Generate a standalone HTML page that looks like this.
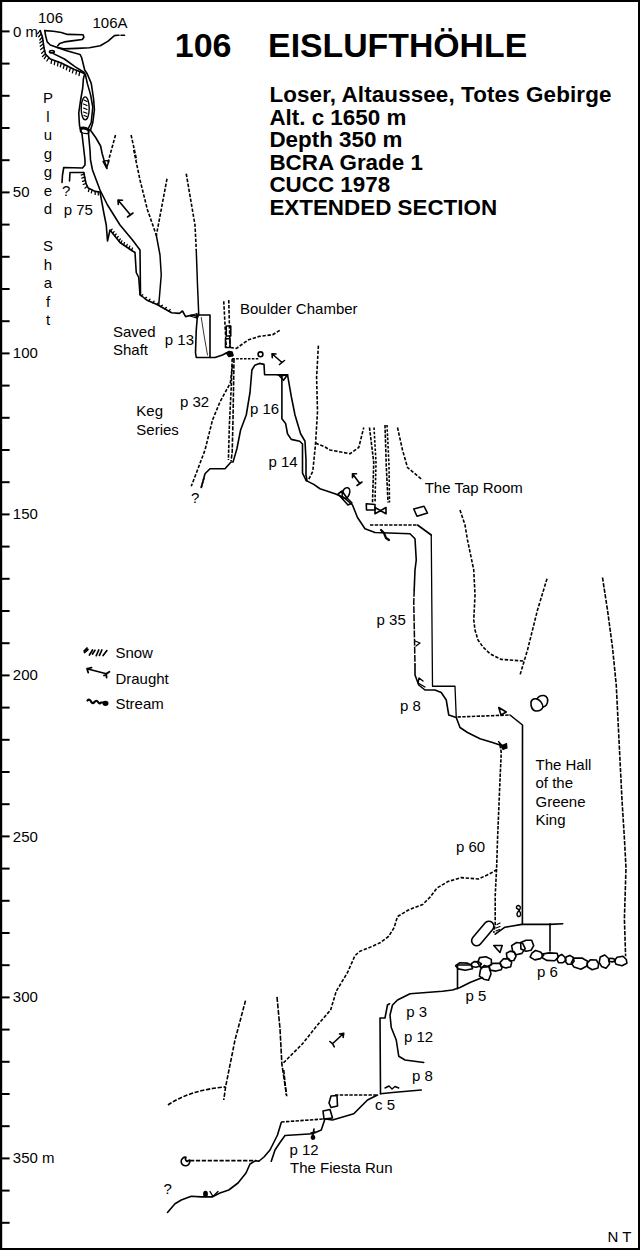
<!DOCTYPE html>
<html><head><meta charset="utf-8">
<style>
html,body{margin:0;padding:0;background:#fff;}
body{width:640px;height:1250px;position:relative;overflow:hidden;font-family:"Liberation Sans",sans-serif;color:#000;}
.t{position:absolute;white-space:nowrap;line-height:1;}
.b{font-weight:bold;}
svg{position:absolute;left:0;top:0;}
</style></head><body>
<svg width="640" height="1250" viewBox="0 0 640 1250">
<g id="frame" fill="#000">
<rect x="0" y="0" width="640" height="2"/>
<rect x="0" y="1248" width="640" height="2"/>
<rect x="0" y="0" width="2.2" height="1250"/>
<rect x="638" y="0" width="2" height="1250"/>
</g>
<g id="ticks" stroke="#000" stroke-width="2">
<line x1="0" y1="31.4" x2="9.6" y2="31.4"/>
<line x1="0" y1="63.6" x2="9.6" y2="63.6"/>
<line x1="0" y1="95.8" x2="9.6" y2="95.8"/>
<line x1="0" y1="128.0" x2="9.6" y2="128.0"/>
<line x1="0" y1="160.2" x2="9.6" y2="160.2"/>
<line x1="0" y1="192.4" x2="9.6" y2="192.4"/>
<line x1="0" y1="224.6" x2="9.6" y2="224.6"/>
<line x1="0" y1="256.8" x2="9.6" y2="256.8"/>
<line x1="0" y1="289.0" x2="9.6" y2="289.0"/>
<line x1="0" y1="321.2" x2="9.6" y2="321.2"/>
<line x1="0" y1="353.4" x2="9.6" y2="353.4"/>
<line x1="0" y1="385.6" x2="9.6" y2="385.6"/>
<line x1="0" y1="417.8" x2="9.6" y2="417.8"/>
<line x1="0" y1="450.0" x2="9.6" y2="450.0"/>
<line x1="0" y1="482.2" x2="9.6" y2="482.2"/>
<line x1="0" y1="514.4" x2="9.6" y2="514.4"/>
<line x1="0" y1="546.6" x2="9.6" y2="546.6"/>
<line x1="0" y1="578.8" x2="9.6" y2="578.8"/>
<line x1="0" y1="611.0" x2="9.6" y2="611.0"/>
<line x1="0" y1="643.2" x2="9.6" y2="643.2"/>
<line x1="0" y1="675.4" x2="9.6" y2="675.4"/>
<line x1="0" y1="707.6" x2="9.6" y2="707.6"/>
<line x1="0" y1="739.8" x2="9.6" y2="739.8"/>
<line x1="0" y1="772.0" x2="9.6" y2="772.0"/>
<line x1="0" y1="804.2" x2="9.6" y2="804.2"/>
<line x1="0" y1="836.4" x2="9.6" y2="836.4"/>
<line x1="0" y1="868.6" x2="9.6" y2="868.6"/>
<line x1="0" y1="900.8" x2="9.6" y2="900.8"/>
<line x1="0" y1="933.0" x2="9.6" y2="933.0"/>
<line x1="0" y1="965.2" x2="9.6" y2="965.2"/>
<line x1="0" y1="997.4" x2="9.6" y2="997.4"/>
<line x1="0" y1="1029.6" x2="9.6" y2="1029.6"/>
<line x1="0" y1="1061.8" x2="9.6" y2="1061.8"/>
<line x1="0" y1="1094.0" x2="9.6" y2="1094.0"/>
<line x1="0" y1="1126.2" x2="9.6" y2="1126.2"/>
<line x1="0" y1="1158.4" x2="9.6" y2="1158.4"/>
<line x1="0" y1="1190.6" x2="9.6" y2="1190.6"/>
<line x1="0" y1="1222.8" x2="9.6" y2="1222.8"/>
</g>
<g id="texts" font-family="Liberation Sans, sans-serif" fill="#000">
<text x="38.0" y="23.0" font-size="15">106</text>
<text x="92.5" y="28.0" font-size="15">106A</text>
<text x="13.0" y="37.0" font-size="15">0 m</text>
<text x="12.8" y="196.7" font-size="15">50</text>
<text x="12.8" y="358.0" font-size="15">100</text>
<text x="12.8" y="519.0" font-size="15">150</text>
<text x="12.8" y="680.0" font-size="15">200</text>
<text x="12.8" y="841.5" font-size="15">250</text>
<text x="12.8" y="1002.0" font-size="15">300</text>
<text x="12.8" y="1162.8" font-size="15">350 m</text>
<text x="62.0" y="195.6" font-size="15">?</text>
<text x="63.7" y="214.5" font-size="15">p 75</text>
<text x="113.0" y="337.0" font-size="15">Saved</text>
<text x="113.0" y="354.9" font-size="15">Shaft</text>
<text x="164.8" y="344.5" font-size="15">p 13</text>
<text x="240.0" y="314.0" font-size="15">Boulder Chamber</text>
<text x="180.0" y="407.3" font-size="15">p 32</text>
<text x="136.3" y="416.0" font-size="15">Keg</text>
<text x="136.3" y="435.1" font-size="15">Series</text>
<text x="250.0" y="414.0" font-size="15">p 16</text>
<text x="268.4" y="466.5" font-size="15">p 14</text>
<text x="191.0" y="502.5" font-size="15">?</text>
<text x="424.7" y="493.0" font-size="15">The Tap Room</text>
<text x="376.6" y="625.0" font-size="15">p 35</text>
<text x="400.0" y="711.0" font-size="15">p 8</text>
<text x="115.4" y="657.5" font-size="15">Snow</text>
<text x="115.4" y="683.5" font-size="15">Draught</text>
<text x="115.4" y="709.3" font-size="15">Stream</text>
<text x="535.5" y="769.6" font-size="15">The Hall</text>
<text x="535.5" y="788.0" font-size="15">of the</text>
<text x="535.5" y="806.5" font-size="15">Greene</text>
<text x="535.5" y="825.0" font-size="15">King</text>
<text x="456.0" y="852.0" font-size="15">p 60</text>
<text x="537.0" y="977.1" font-size="15">p 6</text>
<text x="465.4" y="1000.5" font-size="15">p 5</text>
<text x="406.3" y="1016.5" font-size="15">p 3</text>
<text x="404.0" y="1041.5" font-size="15">p 12</text>
<text x="412.0" y="1081.0" font-size="15">p 8</text>
<text x="375.0" y="1110.0" font-size="15">c 5</text>
<text x="289.4" y="1154.5" font-size="15">p 12</text>
<text x="290.0" y="1172.8" font-size="15">The Fiesta Run</text>
<text x="163.4" y="1194.0" font-size="15">?</text>
<text x="607.5" y="1242.0" font-size="15">N T</text>
<text x="174.8" y="57" font-size="34" font-weight="bold">106</text>
<text x="268.1" y="57" font-size="33.8" font-weight="bold">EISLUFTHÖHLE</text>
<text x="269.4" y="102" font-size="22.4" font-weight="bold" textLength="342" lengthAdjust="spacing">Loser, Altaussee, Totes Gebirge</text>
<text x="269.4" y="124.5" font-size="22.4" font-weight="bold">Alt. c 1650 m</text>
<text x="269.4" y="147" font-size="22.4" font-weight="bold">Depth 350 m</text>
<text x="269.4" y="169.5" font-size="22.4" font-weight="bold">BCRA Grade 1</text>
<text x="269.4" y="192" font-size="22.4" font-weight="bold">CUCC 1978</text>
<text x="269.4" y="214.5" font-size="22.4" font-weight="bold">EXTENDED SECTION</text>
<text x="48.0" y="103.0" font-size="15" text-anchor="middle">P</text>
<text x="48.0" y="121.5" font-size="15" text-anchor="middle">l</text>
<text x="48.0" y="140.0" font-size="15" text-anchor="middle">u</text>
<text x="48.0" y="158.5" font-size="15" text-anchor="middle">g</text>
<text x="48.0" y="177.0" font-size="15" text-anchor="middle">g</text>
<text x="48.0" y="195.5" font-size="15" text-anchor="middle">e</text>
<text x="48.0" y="214.0" font-size="15" text-anchor="middle">d</text>
<text x="48.0" y="251.0" font-size="15" text-anchor="middle">S</text>
<text x="48.0" y="269.5" font-size="15" text-anchor="middle">h</text>
<text x="48.0" y="288.0" font-size="15" text-anchor="middle">a</text>
<text x="48.0" y="306.5" font-size="15" text-anchor="middle">f</text>
<text x="48.0" y="325.0" font-size="15" text-anchor="middle">t</text>
</g>
<g id="lines" fill="none" stroke="#000" stroke-width="1.6" stroke-linejoin="round" stroke-linecap="round">
<path d="M44.8,30.6 L53.4,31.3 L61.3,32.5 L67.5,34.4 L83.1,34.8 L83.9,37.2 L82.3,39.5 L73.8,40.6 L64.4,41.9 L59.7,43.4 L57.8,45.8"/>
<path d="M44.8,30.6 L45.6,35.6 L47.2,41.9 L50.3,45 L56.6,47.3 L63.6,48.9 L76.9,48.4 L89.4,47.8 L100.3,45.8 L108.1,41.1 L114.4,35.6 L117.5,35.3 L119,35.3"/>
<path d="M121,35.3 L124.5,35.3"/>
<path d="M56.6,47.3 L65.9,50.5 L73.8,52.8 L80,54.4 L81.6,57.5 L84.7,70 L87.3,74 L91.25,83.4 L93.6,99 L94.4,110 L92.8,122.5 L90.5,130.3 L96,138 L100.6,146 L102.2,153.75 L104,160 L107,168.5"/>
<path d="M40.2,30.6 L42.5,37.2 L44,48 L45.6,54.4 L50.3,59 L61.3,63 L73.8,69.2 L81.6,72.3 L84.7,73.9 L83.4,78.75 L82.7,88 L80.3,102 L78.75,113 L79.5,125.6 L81.9,133.4 L83.4,146 L85,160 L85,165 L82.5,168 L63.75,167.5 L62.5,175 L62,182.5"/>
<path d="M53.4,53.6 L64.4,59 L75.3,66.9 L83.9,72.3 L85.5,75 L87.3,83.4 L90.5,94.4 L92.8,107 L91.25,122.5 L88.1,128.75 L88.9,138 L90,150 L90.5,160 L92.5,170 L100,190 L107.5,205 L120,225 L132.5,240 L140,250 L140.5,295 L146.6,300 L157.5,304.8 L171.6,312.7 L179.4,313.4 L182.5,311 L185.6,316.6 L191.9,315 L198,316.6"/>
<path d="M83.75,172.5 L70,172.5 L69.5,181"/>
<path d="M83.75,172.5 L86,183.5 L88.2,188 L95,191.4 L100,192 L103.75,212.5 L106.25,225 L107.5,241 L110,230 L120,242.5 L132.5,251 L135,252.5 L136.25,272.5 L138.75,277.5 L140,295"/>
<ellipse cx="51.9" cy="51.7" rx="2.4" ry="1.2"/>
<ellipse cx="85.2" cy="108.4" rx="4" ry="11.5" stroke-width="1.4"/>
<path d="M84,100 l3,1.5 M83.5,104 l3.5,1.5 M83.5,108 l3.5,1.5 M83.5,112 l3.5,1.2 M84,115.5 l2.5,1" stroke-width="1.2"/>
<path d="M80,128 Q84,126 89.5,129.5 L88.5,133.5 Q84,134 80.5,132 Z" stroke-width="1.3"/>
<path d="M80.5,128.2 Q84,126.5 89,129.8 L88,131 Q84,128.5 81,130 Z" fill="#000" stroke="none"/>
<path d="M103,161.5 Q106,160 109,161 L106.5,168 Z" stroke-width="1.4"/>
<path d="M115.5,135 L107,166" stroke-dasharray="3.40,1.65" stroke-width="1.6" stroke-linecap="butt"/>
<path d="M131.1,135 L136.6,160" stroke-dasharray="3.40,1.65" stroke-width="1.6" stroke-linecap="butt"/>
<path d="M133.75,150 L140,180 L147.5,210 L156.25,235" stroke-dasharray="3.40,1.65" stroke-width="1.6" stroke-linecap="butt"/>
<path d="M156.25,235 L160,255 L161.25,275 L158.75,305" stroke-width="1.5"/>
<path d="M167,178.75 L156.25,236" stroke-dasharray="3.40,1.65" stroke-width="1.6" stroke-linecap="butt"/>
<path d="M186.25,173.75 L195,225 L196.25,250" stroke-dasharray="3.40,1.65" stroke-width="1.6" stroke-linecap="butt"/>
<path d="M196.25,250 L197.5,285 L198.75,315" stroke-width="1.5"/>
<path d="M118,200 L130.5,215 M118,200 l0.3,4.5 M118,200 l4.5,0.3 M127.5,217 l5.5,-4"/>
<path d="M198.75,315 L210,315 L210,357.5"/>
<path d="M197.5,315 L196.25,330 L195.5,352.5 L196.25,357.5 L215,357.5 L222.5,355 L226.25,353 L230,353.75 L232,356"/>
<path d="M201.25,317.5 L204,335 L207.5,355" stroke-width="0.8"/>
<path d="M223.75,301.25 L226.25,347.5" stroke-dasharray="3.40,1.65" stroke-width="1.6" stroke-linecap="butt"/>
<path d="M228.75,300 L230,347.5" stroke-dasharray="3.40,1.65" stroke-width="1.6" stroke-linecap="butt"/>
<rect x="226.25" y="326" width="4.5" height="10"/>
<rect x="225.5" y="338.75" width="4.5" height="8.75"/>
<path d="M230.5,347.5 L236.5,348.4 L243.4,343.3 L248.6,339.8 L259,336.4 L272.6,334.7 L281.2,329.5" stroke-dasharray="3.40,1.65" stroke-width="1.6" stroke-linecap="butt"/>
<path d="M226.5,353 L229,351.5 L232,352 L233,355.5 L229,356.5 Z" fill="#000"/>
<path d="M232.2,358.75 L259.4,358.75" stroke-dasharray="2.55,1.38" stroke-width="1.6" stroke-linecap="butt"/>
<circle cx="260.5" cy="354.3" r="2.4"/>
<path d="M272,353.75 L282,362.5 M272,353.75 l0.3,4 M272,353.75 l4,0.3 M279.5,364.5 l5,-4"/>
<path d="M232.2,358.75 L231.25,386.9 L229.4,424.4 L228.4,460" stroke-dasharray="3.40,1.38" stroke-width="1.6" stroke-linecap="butt"/>
<path d="M234,358.75 L233.1,415 L232.2,452.5 L231,461" stroke-dasharray="4.25,1.38" stroke-width="1.6" stroke-linecap="butt"/>
<path d="M232.5,365 L230.3,383 L220,401.9 L212.5,420 L205,450 L197.5,470 L191.25,486.25" stroke-dasharray="3.40,1.65" stroke-width="1.6" stroke-linecap="butt"/>
<path d="M201.25,487.5 L205,473.75 L210,468.75 L225,468.75 L231,462 L233.1,461.9 L236.9,448.75 L240.6,430 L246.25,415 L250,392.5 L251.9,370 L254.7,365.3 L259.4,363.4 L264,364.4 L264.6,374.7 L276.25,374.7 L281.9,375.6 L287.5,374.7"/>
<path d="M201.25,487.5 L204,478" stroke-dasharray="2.55,1.10" stroke-width="1.6" stroke-linecap="butt"/>
<path d="M278.5,374.7 L287.5,374.7 L283.5,380.3 Z"/>
<path d="M281.9,375.6 L281.9,418.75 L285.6,423.4 L287.5,433.75 L291.25,439.4 L299.7,441.25 L302.5,444 L302.5,473.1 L306.25,480.6"/>
<path d="M287.5,374.7 L291.25,396.25 L295,415 L300.6,433.75 L305,441.25 L306,460 L306,475 L307,480.6"/>
<path d="M318.4,345.6 L316.6,377.5 L317.5,411.25 L315.6,443.1 L312.8,471.25 L308.1,480.6" stroke-dasharray="3.40,1.65" stroke-width="1.6" stroke-linecap="butt"/>
<path d="M315.6,443.1 L325,447 L330,450 L350,453.75 L358.75,447.5 L363.75,427.5" stroke-dasharray="3.40,1.65" stroke-width="1.6" stroke-linecap="butt"/>
<path d="M306.25,480.6 L313.75,484.4 L320,488.75 L335,493.75 L343.75,497.5 L352.5,505 L357.5,517.5 L365,528.75 L375,532.5 L410,533.75 L415,538.75 L416.25,560 L415,570 L414.2,590"/>
<path d="M414.2,590 L413.75,602.5 L414.5,640 L415,665" stroke-dasharray="6.80,1.32" stroke-width="1.5" stroke-linecap="butt"/>
<path d="M415,665 L415,675 L418.75,685 L425,690 L435,690 L441.25,692.5 L446.25,700 L448.75,715 L456.25,717.5 L460,727.5 L467.5,732.5 L480,738.75 L492.5,742.5 L500,745 L505,746.25"/>
<ellipse cx="346" cy="493" rx="3.5" ry="5.5" transform="rotate(20 346 493)"/>
<path d="M338,494 L342,491 L347,498 L352,503 L348,505 Z"/>
<path d="M352.5,473.75 L360,483.75 M352.5,473.75 l0,4 M352.5,473.75 l4,0 M357,485.5 l5,-3.5"/>
<path d="M369.5,427.5 L373.75,462.5 L372.5,502.5" stroke-dasharray="3.40,1.38" stroke-width="1.6" stroke-linecap="butt"/>
<path d="M374,427.5 L376,462.5 L375,502.5" stroke-dasharray="2.55,1.65" stroke-width="1.6" stroke-linecap="butt"/>
<path d="M385,425 L386.25,465 L388,502.5" stroke-dasharray="3.40,1.38" stroke-width="1.6" stroke-linecap="butt"/>
<path d="M387,425 L389,465 L389.5,502.5" stroke-dasharray="2.55,1.65" stroke-width="1.6" stroke-linecap="butt"/>
<path d="M366.25,503.75 L375,504.5 L375,510 L366.5,510 Z"/>
<path d="M375,507.5 L386,513.75 L386,507.5 L375,513.75 Z"/>
<path d="M397.5,427.5 L402.5,450 L407.5,467.5 L422.5,480" stroke-dasharray="3.40,1.65" stroke-width="1.6" stroke-linecap="butt"/>
<path d="M413.75,509 L424,506.25 L427.5,513 L417,516.25 Z"/>
<path d="M370,525 L417.5,525" stroke-dasharray="3.40,1.38" stroke-width="1.6" stroke-linecap="butt"/>
<path d="M417.5,525 L431.25,535"/>
<path d="M431.25,535 L432.5,686.25 L455,686.25 L456.25,717.5" stroke-width="1.3"/>
<path d="M381,530 L384,533 L386,538 L389,540" stroke-width="2.2"/>
<path d="M460,510 L465,525 L467.5,540 L473.75,570 L475,595 L473.75,620 L475,630 L478,640 L483,647 L490,653.75 L501,659.4 L523.6,661" stroke-dasharray="3.40,1.65" stroke-width="1.6" stroke-linecap="butt"/>
<path d="M547,578.75 L537.5,610 L527.5,650 L520,675" stroke-dasharray="3.40,1.65" stroke-width="1.6" stroke-linecap="butt"/>
<path d="M602.5,577.5 L607.5,610 L612.5,647.5 L616.25,685 L619,740 L622,800 L624.5,840 L626,868 L624.4,918.75 L625.6,956.25" stroke-dasharray="4.25,1.38" stroke-width="1.6" stroke-linecap="butt"/>
<path d="M457.5,717 L510,715" stroke-dasharray="3.40,1.38" stroke-width="1.6" stroke-linecap="butt"/>
<path d="M498.75,707.5 L506.25,712 L501,715 Z"/>
<path d="M510,715 L522.5,725 L522.4,924.4"/>
<path d="M500,745 L501.25,752.5 L500,780 L497.5,840 L496.6,868 L495.2,896 L495.2,924.4 L493.75,932.8" stroke-dasharray="3.40,1.38" stroke-width="1.6" stroke-linecap="butt"/>
<path d="M531,702 Q532,698 537,699 Q539,695 544,695.5 Q548.5,697 547.5,702 Q547,706 543,707 Q541,711.5 535.5,711 Q530.5,709.5 531,702 Z"/>
<path d="M537,699 Q542,701 543,707" stroke-width="1.5"/>
<path d="M498.5,741.5 L502,745.5 L506.5,743.5 L507,748 L503,749.5 Z" fill="#000" stroke-width="1.2"/>
<path d="M425,687 L418,683 L419,678 L423,681" stroke-width="1.4"/>
<path d="M415,641 L420,643 L416,646" stroke-width="1.3"/>
<path d="M497,869.5 L489.4,874 L478.4,879 L461,877.6 L447.8,881.6 L436.9,888.1 L430.3,896.9 L422.7,904.5 L408.4,910 L397.5,916.6 L394.2,927.5 L388.75,936.25 L380,942.8 L372.5,946.25 L360,951.25 L355,955.6 L347.5,972.5 L336.25,991.25 L330.6,1010 L317.5,1025 L302.5,1043.75 L281.9,1064.4" stroke-dasharray="3.40,1.65" stroke-width="1.6" stroke-linecap="butt"/>
<path d="M495.2,934.2 L505,927.2 L521.9,924.4 L550,924.4 L562.7,923.8"/>
<path d="M550,923.8 L550,951"/>
<rect x="477.8" y="919" width="10" height="29" rx="5" ry="5" transform="rotate(40 482.8 933.4)"/>
<path d="M493.75,945.5 L502.2,945.5 L500,952.5 Z"/>
<path d="M518.5,905.5 Q522,906.5 519,910.5 Q515.5,914 518,916.5 Q521,917 520.5,913 Q519.5,909.5 516.5,908 Q516,905.5 518.5,905.5 Z" stroke-width="1.4"/>
<path d="M457.5,965 L457.5,988.75 M457.5,965 L470,965"/>
<path d="M380.5,1093.75 L380,1018 L385,1018 L387.5,1005 L389.5,1003.75"/>
<path d="M482.5,977.5 L470,982.5 L460,987.5 L452.5,990 L442.5,991.25 L410,993.75 L397.5,1000 L392.5,1005 L390,1015 L391.25,1027.5 L396.25,1040 L398.75,1056.25 L405,1060 L423.75,1062.5"/>
<path d="M380.5,1093.75 L392.5,1092.5 L421.25,1090"/>
<path d="M385,1088 L389,1086 L392,1089 L395,1086.5 L398.75,1088" stroke-width="1.4"/>
<path d="M335,1095 L377.5,1095" stroke-dasharray="3.40,1.38" stroke-width="1.6" stroke-linecap="butt"/>
<path d="M377.5,1095 L367.5,1100 L360,1107.5 L353.75,1113.75 L332.5,1120 L323.75,1118.75"/>
<path d="M331,1096 L337,1095.5 L337.5,1106 L331,1107.5 L329,1103 Z"/>
<path d="M323,1111 L330,1109.5 L332.5,1118 L324,1119 Z"/>
<path d="M281.25,1122 L323.75,1119" stroke-dasharray="3.40,1.38" stroke-width="1.6" stroke-linecap="butt"/>
<path d="M325,1118.75 L321.25,1130 L312.5,1133.75 L285,1135.5 L280,1142.5 L275,1150 L271.25,1161.25"/>
<path d="M281.25,1122.5 L277.5,1135 L270,1150 L264,1157 L258.75,1161.25"/>
<path d="M312.5,1137 L314,1129 M311,1133 l4,-1"/>
<circle cx="313" cy="1137.5" r="1.6" fill="#000"/>
<path d="M283.75,1070 L286.25,1095" stroke-dasharray="4.25,1.65" stroke-width="1.6" stroke-linecap="butt"/>
<path d="M245.5,1000.6 L235,1040 L225.6,1086.9 L223.75,1100" stroke-dasharray="4.25,1.65" stroke-width="1.6" stroke-linecap="butt"/>
<path d="M277,996.9 L280,1028.75 L281.9,1064.4 L286.75,1096.25" stroke-dasharray="5.10,1.38" stroke-width="1.6" stroke-linecap="butt"/>
<path d="M168,1105 Q190,1090 225.6,1086.9" stroke-dasharray="4.25,1.65" stroke-width="1.6" stroke-linecap="butt"/>
<path d="M332.5,1043.75 L343.75,1033.25 M343.75,1033.25 l-4.2,0.8 M343.75,1033.25 l-0.6,4.2 M329.8,1041.5 l2.7,2.2 l1.8,3.2"/>
<path d="M190,1160.6 L255.6,1160.6" stroke-dasharray="4.25,1.65" stroke-width="1.6" stroke-linecap="butt"/>
<path d="M189.5,1160 A4.3,4.3 0 1 1 186,1157.2 Q184.5,1160 187,1161.5 Z"/>
<path d="M258.75,1161.25 L255.6,1160.6 L250,1164 L246,1173 L238,1183 L228.75,1190 L220,1193 L212.5,1196.9 L201.25,1196.9 L191.25,1196.25 L181.25,1200 L175,1203.75 L167.5,1212.5"/>
<ellipse cx="205.5" cy="1194" rx="1.6" ry="2.4" fill="#000"/>
<path d="M210,1191.5 L213,1196.5 L218,1191.5" stroke-width="1.4"/>
<path d="M286.9,1095.6" />
<path d="M496,928 l4,-1.5 M496,931 l3.5,-1.5 M497,924.5 l3,-1.5" stroke-width="1.2"/>
<path d="M190,316 L197,313.5 L196.5,318 Z" stroke-width="1.3"/>
<path d="M465.2,970.3 L458.3,968.9 L455.6,965.7 L459.9,962.7 L467.4,963.1 L471.7,965.3 L472.5,968.8 Z"/>
<path d="M476.0,967.2 L471.5,966.5 L471.4,963.7 L474.1,961.6 L478.7,961.9 L481.4,964.0 L479.6,966.3 Z"/>
<path d="M479.6,957.6 L486.0,956.7 L491.3,959.4 L491.4,964.6 L486.4,966.9 L480.5,967.2 L477.6,962.6 Z"/>
<path d="M483.7,979.2 L479.4,976.1 L480.5,969.4 L484.4,965.4 L489.4,967.3 L491.0,973.9 L488.5,980.2 Z"/>
<path d="M489.8,970.1 L489.1,966.5 L492.6,963.3 L499.7,963.4 L502.4,966.7 L501.2,969.7 L496.0,971.1 Z"/>
<path d="M511.7,962.2 L510.7,966.7 L505.9,968.1 L501.2,966.6 L500.2,962.2 L503.4,958.9 L508.6,958.6 Z"/>
<path d="M506.4,953.3 L510.2,951.1 L514.4,952.1 L516.0,956.4 L513.8,960.5 L509.5,960.7 L507.0,957.5 Z"/>
<path d="M522.6,943.2 L525.2,948.6 L521.9,953.4 L516.3,954.8 L512.6,950.8 L511.6,945.6 L516.6,942.5 Z"/>
<path d="M526.1,951.3 L520.9,948.9 L520.7,942.6 L526.1,940.3 L531.7,940.3 L533.7,945.7 L531.0,950.3 Z"/>
<path d="M534.8,959.9 L530.1,957.1 L531.9,953.2 L535.5,950.5 L540.5,952.1 L543.7,955.3 L540.4,958.6 Z"/>
<path d="M557.1,953.3 L558.4,957.2 L554.7,960.8 L546.6,960.4 L542.2,957.7 L542.1,954.1 L549.1,952.9 Z"/>
<path d="M562.5,962.8 L558.5,962.7 L556.9,959.3 L558.2,956.5 L561.7,954.4 L564.7,957.0 L566.0,960.5 Z"/>
<path d="M573.3,957.5 L574.1,961.3 L571.6,964.3 L567.6,964.3 L565.1,961.0 L566.1,957.1 L569.8,955.4 Z"/>
<path d="M587.6,961.3 L586.9,966.0 L580.9,969.2 L574.0,967.1 L571.2,963.0 L573.7,958.1 L582.0,958.0 Z"/>
<path d="M587.1,963.2 L590.3,959.9 L596.3,960.0 L598.6,963.8 L598.0,968.0 L592.2,969.7 L587.7,967.0 Z"/>
<path d="M600.2,957.1 L604.8,955.0 L608.6,958.5 L609.5,964.1 L606.0,968.3 L601.5,966.4 L599.2,962.3 Z"/>
<path d="M610.0,958.3 L613.3,958.6 L615.4,959.7 L614.9,961.3 L611.9,961.9 L609.2,961.3 L608.5,959.9 Z"/>
<path d="M616.1,964.3 L614.4,960.5 L617.1,957.2 L623.0,956.2 L626.3,959.5 L626.9,963.2 L622.0,965.7 Z"/>
<path d="M40.2,30.6 l-2.6,3.0 M41.3,33.8 l-2.6,3.0 M42.4,37.0 l-2.6,3.0 M42.9,40.4 l-3.2,2.5 M43.4,43.7 l-3.2,2.5 M43.9,47.1 l-3.2,2.5 M44.6,50.4 l-2.9,2.8 M45.4,53.7 l-2.9,2.8" stroke-width="1.3"/>
<path d="M46.5,55.4 l-2.2,3.3 M49.0,57.7 l-2.2,3.3 M51.8,59.5 l-0.7,3.9 M55.0,60.7 l-0.7,3.9 M58.2,61.9 l-0.7,3.9 M61.4,63.0 l-1.1,3.8 M64.4,64.5 l-1.1,3.8 M67.4,66.0 l-1.1,3.8 M70.5,67.6 l-1.1,3.8 M73.5,69.1 l-1.1,3.8 M76.7,70.3 l-0.8,3.9 M79.8,71.6 l-0.8,3.9" stroke-width="1.3"/>
<path d="M84.0,174.0 l-2.8,1.1 M84.7,177.1 l-2.8,1.1 M85.3,180.3 l-2.8,1.1 M86.0,183.4 l-2.8,1.1 M87.4,186.3 l-2.4,1.8 M89.3,188.6 l-0.9,2.9 M92.2,190.0 l-0.9,2.9 M95.1,191.4 l0.1,3.0 M98.2,191.9 l0.1,3.0" stroke-width="1.3"/>
<path d="M110.5,231.0 l1.6,-1.9 M112.5,233.5 l1.6,-1.9 M114.6,235.9 l1.6,-1.9 M116.6,238.4 l1.6,-1.9 M118.7,240.9 l1.6,-1.9 M120.9,243.1 l1.0,-2.3 M123.5,244.9 l1.0,-2.3 M126.2,246.7 l1.0,-2.3 M128.8,248.5 l1.0,-2.3 M131.5,250.3 l1.0,-2.3" stroke-width="1.3"/>
<path d="M141.0,296.0 l1.8,-1.2 M144.7,298.6 l1.8,-1.2 M148.5,300.9 l1.5,-1.6 M152.7,302.7 l1.5,-1.6 M156.8,304.5 l1.5,-1.6 M160.7,306.6 l1.7,-1.4 M164.7,308.8 l1.7,-1.4 M168.6,311.0 l1.7,-1.4" stroke-width="1.3"/>
<path d="M84,651 l3,-3 M84.5,652.5 l3.5,-3 M89.4,655 l3.1,-5 M92.5,654 l2.5,-3.7 M96.25,655.6 l2.5,-5.6 M99.4,655.3 l2.5,-5.3 M103.1,655.6 l3.8,-5" stroke-width="1.7"/>
<path d="M87,668.75 L106.25,673.75 M87,668.75 l4.5,-1.2 M87,668.75 l1.2,3.8 M104,675.5 l5.4,-3.8 M106.25,673.75 l0.3,3.8" stroke-width="1.8"/>
<path d="M87.5,700.5 Q89.5,698.5 91,701.5 T94.5,702 T98,702 T101,702.5 L104,702.5" stroke-width="2.2"/>
<ellipse cx="105.5" cy="703.3" rx="2.2" ry="1.8" fill="#000"/>
</g>
</svg>
<div id="txt">
</div>
</body></html>
